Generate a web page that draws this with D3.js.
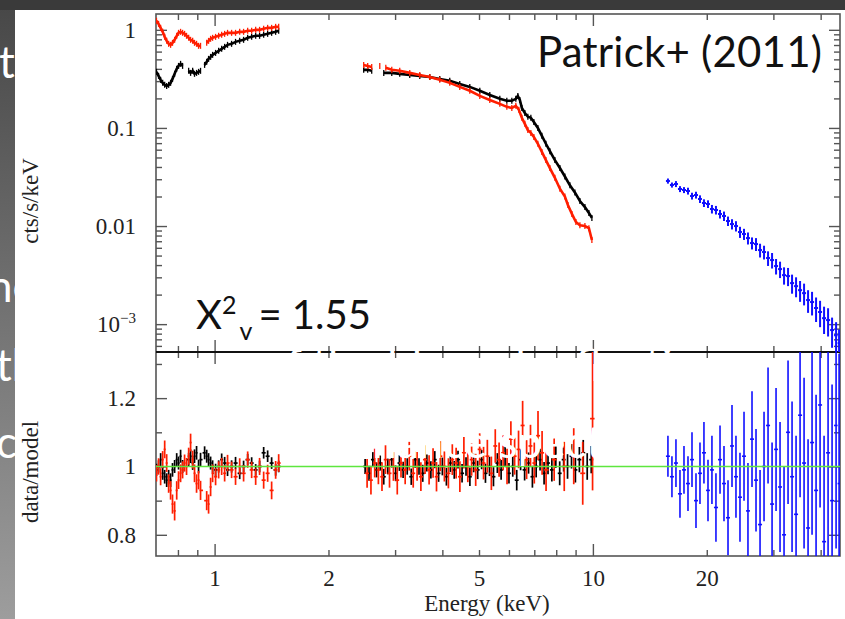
<!DOCTYPE html>
<html><head><meta charset="utf-8">
<script src="https://cdn.jsdelivr.net/npm/d3@7/dist/d3.min.js"></script>
<style>html,body{margin:0;padding:0;background:#fff;overflow:hidden}svg{display:block}</style>
</head><body>
<svg id="chart" width="845" height="619"></svg>
<script>
// ---------------- data ----------------
const xDomain=[0.7,45];
const yTopDomain=[5.2e-4,1.45];
const yBotDomain=[0.738,1.335];
const xTickLabels=[1,2,5,10,20];
const xMajorTicks=[1,10];
const yTopMajorTicks=[0.001,0.01,0.1,1];
const yBotMajorTicks=[0.8,1,1.2];
const yBotMinorTicks=[0.9,1.1,1.3];

// black (low energy) counts
const blkLoE=[0.702,0.711,0.720,0.729,0.738,0.747,0.756,0.765,0.774,0.784,0.794,0.803,0.813,0.823,0.838,0.854,0.864,0.875,0.885,0.896,0.907,0.918,0.930,0.941,0.953,0.964,0.976,0.988,1.006,1.025,1.044,1.063,1.082,1.109,1.136,1.165,1.193,1.223,1.253,1.284,1.315,1.348,1.381,1.415,1.450,1.477];
const blkLoF=[0.373,0.339,0.309,0.288,0.275,0.268,0.275,0.288,0.316,0.356,0.400,0.429,0.450,0.429,null,0.382,0.364,0.382,0.356,0.364,0.373,0.382,null,0.439,0.472,0.506,0.530,0.556,0.582,0.611,0.640,0.671,0.703,0.720,0.754,0.772,0.791,0.829,0.848,0.869,0.869,0.889,0.910,0.932,0.954,0.977];
const blkLoRes=[0.99,1.00,1.02,0.98,0.97,0.96,0.97,0.96,0.99,1.00,1.02,1.01,1.03,1.00,null,1.02,1.03,1.01,1.03,1.04,1.00,1.02,null,1.04,1.03,1.02,1.01,1.00,0.99,1.00,1.02,1.01,0.99,1.00,1.01,0.98,1.00,1.02,1.01,0.99,1.00,1.04,1.03,1.01,0.99,1.00];
const blkLoErr=[0.018,0.018,0.019,0.019,0.020,0.020,0.020,0.020,0.020,0.019,0.019,0.019,0.019,0.019,0,0.020,0.020,0.020,0.020,0.020,0.020,0.020,0,0.019,0.019,0.019,0.019,0.018,0.018,0.018,0.018,0.018,0.018,0.018,0.018,0.017,0.017,0.017,0.017,0.017,0.017,0.017,0.017,0.017,0.017,0.017];

// red (low energy) counts
const redLoE=[0.702,0.711,0.720,0.729,0.738,0.747,0.756,0.765,0.774,0.784,0.794,0.803,0.813,0.823,0.833,0.843,0.854,0.864,0.875,0.885,0.896,0.907,0.918,0.935,0.953,0.964,0.976,0.988,1.006,1.025,1.044,1.063,1.082,1.109,1.136,1.165,1.193,1.223,1.253,1.284,1.315,1.348,1.381,1.415,1.450,1.477];
const redLoF=[1.235,1.151,1.048,0.954,0.848,0.772,0.720,0.703,0.737,0.791,0.869,0.932,0.954,0.932,0.910,0.869,0.829,0.791,0.772,0.737,0.720,0.687,0.687,null,0.737,0.772,0.810,0.829,0.848,0.869,0.889,0.910,0.932,0.932,0.932,0.954,0.954,0.977,0.977,1.000,1.000,1.024,1.048,1.048,1.073,1.073];
const redLoRes=[0.98,1.00,0.97,1.02,1.05,1.01,0.95,0.93,0.89,0.87,0.93,0.96,0.98,0.99,1.01,1.00,1.03,1.07,1.02,0.98,0.95,0.96,0.93,null,0.90,0.89,0.94,0.98,0.97,0.99,1.00,0.98,1.01,0.99,0.97,1.00,0.98,1.02,0.99,0.97,1.00,0.96,0.98,0.93,0.99,1.01];
const redLoErr=[0.024,0.024,0.025,0.025,0.026,0.026,0.027,0.027,0.028,0.028,0.027,0.026,0.026,0.025,0.025,0.025,0.025,0.026,0.026,0.026,0.027,0.027,0.028,0,0.028,0.028,0.027,0.026,0.025,0.025,0.025,0.024,0.024,0.024,0.024,0.024,0.024,0.024,0.024,0.024,0.025,0.025,0.025,0.026,0.026,0.026];

// black (2.5-10 keV) counts
const blkHiE=[2.478,2.539,2.602,2.700,2.800,2.940,3.086,3.280,3.486,3.705,3.937,4.184,4.447,4.727,5.024,5.339,5.675,5.922,6.105,6.256,6.333,6.411,6.489,6.609,6.731,6.855,6.982,7.154,7.331,7.512,7.697,7.935,8.180,8.433,8.694,8.963,9.240,9.526,9.760,9.939];
const blkHiF=[0.391,0.391,0.382,null,0.364,0.364,0.356,0.347,0.339,0.331,0.316,0.302,0.281,0.262,0.239,0.217,0.198,0.189,0.189,0.198,0.212,0.193,0.160,0.142,0.130,0.127,0.115,0.100,0.083,0.069,0.058,0.047,0.039,0.032,0.026,0.022,0.018,0.0156,0.0136,0.0121];
// red (2.5-10 keV) counts
const redHiE=[2.478,2.539,2.602,2.670,2.733,2.780,2.835,2.940,3.086,3.280,3.486,3.705,3.937,4.184,4.447,4.727,5.024,5.339,5.675,5.922,6.105,6.256,6.372,6.489,6.609,6.731,6.855,6.982,7.154,7.331,7.512,7.697,7.935,8.180,8.433,8.589,8.801,9.018,9.240,9.526,9.760,9.939];
const redHiF=[0.439,0.429,0.419,null,0.429,null,0.410,0.391,0.382,0.364,0.347,0.331,0.309,0.288,0.262,0.239,0.212,0.193,0.176,0.164,0.160,0.168,0.153,0.127,0.110,0.095,0.089,0.081,0.069,0.057,0.047,0.039,0.031,0.024,0.020,0.0164,0.0133,0.0110,0.0102,0.0100,0.0095,0.0072];

// ratios 2.5-10 keV
const blkResE=[2.50,2.56,2.62,2.68,2.74,2.80,2.87,2.94,3.01,3.08,3.15,3.23,3.31,3.39,3.47,3.55,3.64,3.73,3.82,3.91,4.00,4.10,4.20,4.30,4.40,4.51,4.62,4.73,4.84,4.96,5.08,5.20,5.33,5.46,5.59,5.72,5.86,6.00,6.14,6.29,6.44,6.60,6.76,6.92,7.08,7.25,7.43,7.61,7.79,7.98,8.17,8.37,8.57,8.78,8.99,9.21,9.43,9.66,9.90];
const blkRes=[1.00,0.98,1.02,0.99,1.01,0.97,1.00,1.02,0.98,1.01,0.99,1.00,0.97,1.02,1.00,0.98,1.01,0.99,1.02,0.98,1.00,0.97,1.01,0.99,1.02,0.98,1.00,0.97,1.01,0.99,1.02,0.98,1.00,0.97,1.01,0.99,1.03,0.98,1.00,0.96,1.02,0.99,1.01,0.97,1.00,1.02,0.98,1.01,0.99,1.03,0.98,1.02,1.00,1.03,0.99,1.02,1.04,1.00,1.02];
const blkResErr=[0.022,0.022,0.022,0.022,0.022,0.023,0.023,0.023,0.023,0.023,0.024,0.024,0.024,0.024,0.024,0.025,0.025,0.025,0.025,0.025,0.026,0.026,0.026,0.026,0.026,0.027,0.027,0.027,0.027,0.027,0.028,0.028,0.028,0.028,0.029,0.029,0.029,0.030,0.030,0.030,0.031,0.031,0.031,0.032,0.032,0.032,0.033,0.033,0.034,0.034,0.035,0.035,0.036,0.036,0.037,0.037,0.038,0.039,0.040];
const redResE=[2.53,2.59,2.65,2.71,2.77,2.83,2.90,2.97,3.04,3.11,3.19,3.27,3.35,3.43,3.51,3.60,3.69,3.78,3.86,3.95,4.05,4.15,4.25,4.35,4.45,4.56,4.67,4.78,4.90,5.02,5.14,5.26,5.39,5.52,5.65,5.79,5.93,6.07,6.21,6.36,6.52,6.68,6.84,7.00,7.16,7.34,7.52,7.90,8.40,8.90,9.40,9.98];
const redRes=[0.98,0.96,1.01,0.99,0.97,1.02,0.98,1.00,0.96,1.01,0.99,1.03,0.98,1.00,0.97,1.02,0.99,1.01,0.97,1.03,1.00,0.98,1.02,1.01,0.97,1.04,1.00,1.02,0.99,1.05,1.01,1.03,0.98,1.06,1.02,1.04,1.00,1.08,1.03,1.05,1.12,1.02,1.06,1.01,1.09,1.04,0.99,1.02,1.00,1.03,0.98,1.14];
const redResErr=[0.042,0.042,0.042,0.042,0.042,0.042,0.042,0.042,0.042,0.042,0.042,0.042,0.042,0.042,0.042,0.042,0.043,0.043,0.043,0.044,0.044,0.044,0.045,0.045,0.045,0.046,0.046,0.047,0.047,0.047,0.048,0.048,0.049,0.049,0.050,0.051,0.052,0.052,0.054,0.055,0.072,0.057,0.062,0.060,0.072,0.064,0.062,0.062,0.072,0.082,0.092,0.210];

// blue (hard X-ray) counts, ratios, fractional errors
const blueE=[15.79,16.18,16.58,16.99,17.41,17.84,18.28,18.73,19.19,19.66,20.15,20.64,21.15,21.68,22.21,22.76,23.32,23.89,24.48,25.09,25.70,26.34,26.99,27.66,28.34,29.04,29.76,30.49,31.24,32.01,32.80,33.61,34.44,35.29,36.16,37.05,37.96,38.90,39.86,40.84,41.85,42.88,43.94,44.75];
const blueF=[0.02878,0.02621,0.02683,0.02385,0.02330,0.02276,0.02024,0.02071,0.01886,0.01717,0.01677,0.01491,0.01457,0.01326,0.01265,0.01125,0.01048,0.01000,0.00869,0.00829,0.00754,0.00671,0.00655,0.00569,0.00543,0.00472,0.00450,0.00391,0.00364,0.00316,0.00309,0.00262,0.00244,0.00222,0.00207,0.00176,0.00168,0.00146,0.00133,0.00115,0.00110,0.00087,0.00077,0.00064];
const blueRes=[1.03,0.97,1.01,0.92,0.99,0.95,1.02,0.90,0.98,1.04,0.93,0.99,0.88,1.02,0.95,0.85,1.06,0.97,0.91,1.03,0.87,1.08,0.96,0.83,1.00,1.12,0.89,1.05,0.94,0.80,1.10,0.97,0.86,1.15,1.01,0.82,1.07,0.93,1.18,0.78,1.04,0.90,1.12,0.95];
const blueErr=[0.06,0.06,0.07,0.07,0.07,0.08,0.08,0.08,0.09,0.09,0.09,0.10,0.10,0.10,0.11,0.11,0.12,0.12,0.13,0.13,0.14,0.14,0.15,0.16,0.16,0.17,0.18,0.18,0.19,0.20,0.21,0.22,0.23,0.24,0.25,0.26,0.27,0.28,0.30,0.31,0.32,0.34,0.36,0.38];

// ---------------- drawing ----------------
const W=845,H=619,L=156,R=840,T=14,M=352,B=556;
const svg=d3.select("#chart");
const defs=svg.append("defs");
const lg=defs.append("linearGradient").attr("id","bgL").attr("x1",0).attr("y1",0).attr("x2",0).attr("y2",1);
lg.append("stop").attr("offset","0%").attr("stop-color","#474747");
lg.append("stop").attr("offset","100%").attr("stop-color","#9d9d9d");
defs.append("clipPath").attr("id","cpT").append("rect").attr("x",L).attr("y",T).attr("width",R-L).attr("height",M-T);
defs.append("clipPath").attr("id","cpB").append("rect").attr("x",L).attr("y",M).attr("width",R-L).attr("height",B-M);

svg.append("rect").attr("width",W).attr("height",H).attr("fill","url(#bgL)");
svg.append("rect").attr("width",W).attr("height",10).attr("fill","#3a3a3a");
svg.append("rect").attr("x",15).attr("y",10).attr("width",W-15).attr("height",H-10).attr("fill","#fff");

const x=d3.scaleLog().domain(xDomain).range([L,R]);
const yT=d3.scaleLog().domain(yTopDomain).range([M,T]);
const yB=d3.scaleLinear().domain(yBotDomain).range([B,M]);

const serif="'Liberation Serif','Times New Roman',serif";
const tickCol="#555";

function styleAxis(g){
  g.select(".domain").remove();
  g.selectAll(".tick line").attr("stroke",tickCol).attr("stroke-width",1.4);
  g.selectAll(".tick text").attr("font-family",serif).attr("font-size",23).attr("fill","#222");
}
function addAxis(gen,tx,ty){
  svg.append("g").attr("transform",`translate(${tx},${ty})`).call(gen).call(styleAxis);
}
const xMinor=x.ticks().filter(v=>v>xDomain[0]*1.01&&!xMajorTicks.includes(v));
const yTMinor=yT.ticks().filter(v=>!yTopMajorTicks.some(m=>Math.abs(m-v)/m<1e-6));
const none=()=>"";

// x axes: top edge, middle (both panels), bottom edge
[[d3.axisTop,T],[d3.axisBottom,M],[d3.axisTop,M],[d3.axisBottom,B]].forEach(([f,ty])=>{
  addAxis(f(x).tickValues(xMajorTicks).tickSize(-12).tickSizeOuter(0).tickFormat(none),0,ty);
  addAxis(f(x).tickValues(xMinor).tickSize(-6).tickSizeOuter(0).tickFormat(none),0,ty);
});
addAxis(d3.axisBottom(x).tickValues(xTickLabels).tickSize(0).tickPadding(14).tickFormat(d3.format("d")),0,B);

// top panel y axes
addAxis(d3.axisLeft(yT).tickValues(yTopMajorTicks).tickSize(-11).tickSizeOuter(0).tickPadding(20)
  .tickFormat(v=>v>=0.01?String(v):""),L,0);
addAxis(d3.axisLeft(yT).tickValues(yTMinor).tickSize(-6).tickSizeOuter(0).tickFormat(none),L,0);
addAxis(d3.axisRight(yT).tickValues(yTopMajorTicks).tickSize(-11).tickSizeOuter(0).tickFormat(none),R,0);
addAxis(d3.axisRight(yT).tickValues(yTMinor).tickSize(-6).tickSizeOuter(0).tickFormat(none),R,0);
// 10^-3 label
const e3=svg.append("text").attr("x",L-20).attr("y",yT(0.001)+8).attr("text-anchor","end")
  .attr("font-family",serif).attr("font-size",23).attr("fill","#222");
e3.append("tspan").text("10");
e3.append("tspan").attr("font-size",15).attr("dy",-9).text("−3");

// bottom panel y axes
addAxis(d3.axisLeft(yB).tickValues(yBotMajorTicks).tickSize(-11).tickSizeOuter(0).tickPadding(20).tickFormat(d3.format("")),L,0);
addAxis(d3.axisLeft(yB).tickValues(yBotMinorTicks).tickSize(-6).tickSizeOuter(0).tickFormat(none),L,0);
addAxis(d3.axisRight(yB).tickValues(yBotMajorTicks).tickSize(-11).tickSizeOuter(0).tickFormat(none),R,0);
addAxis(d3.axisRight(yB).tickValues(yBotMinorTicks).tickSize(-6).tickSizeOuter(0).tickFormat(none),R,0);

// frame
svg.append("rect").attr("x",L).attr("y",T).attr("width",R-L).attr("height",B-T)
  .attr("fill","none").attr("stroke","#555").attr("stroke-width",1.6);
svg.append("line").attr("x1",L).attr("x2",R).attr("y1",M).attr("y2",M).attr("stroke","#111").attr("stroke-width",1.8);

// axis titles
svg.append("text").attr("x",487).attr("y",611).attr("text-anchor","middle").attr("font-family",serif)
  .attr("font-size",23).attr("fill","#222").text("Energy (keV)");
svg.append("text").attr("transform","translate(38,201) rotate(-90)").attr("text-anchor","middle").attr("font-family",serif)
  .attr("font-size",23).attr("fill","#222").text("cts/s/keV");
svg.append("text").attr("transform","translate(38,472) rotate(-90)").attr("text-anchor","middle").attr("font-family",serif)
  .attr("font-size",23).attr("fill","#222").text("data/model");

// --- marks
const gT=svg.append("g").attr("clip-path","url(#cpT)");
const gB=svg.append("g").attr("clip-path","url(#cpB)");

function trace(g,E,F,color){
  const line=d3.line().defined((d,i)=>F[i]!=null).x((d,i)=>x(E[i])).y((d,i)=>yT(F[i]));
  g.append("path").datum(E).attr("d",line).attr("fill","none").attr("stroke",color).attr("stroke-width",2.6);
  const pts=E.map((e,i)=>[e,F[i]]).filter(d=>d[1]!=null);
  g.append("g").selectAll("line").data(pts).join("line")
    .attr("x1",d=>x(d[0])).attr("x2",d=>x(d[0])).attr("y1",d=>yT(d[1])-3).attr("y2",d=>yT(d[1])+3)
    .attr("stroke",color).attr("stroke-width",1.3);
}
function crosses(g,E,V,Err,color,yS,rel,sw){
  const pts=[];
  E.forEach((e,i)=>{if(V[i]!=null)pts.push({e,v:V[i],err:Err[i]});});
  const gg=g.append("g").attr("stroke",color).attr("stroke-width",sw);
  pts.forEach((d,k)=>{
    const px=x(d.e);
    const hl=k>0?Math.min((px-x(pts[k-1].e))/2,2.5):2;
    const hr=k<pts.length-1?Math.min((x(pts[k+1].e)-px)/2,2.5):2;
    const lo=rel?d.v*(1-d.err):d.v-d.err, hi=rel?d.v*(1+d.err):d.v+d.err;
    gg.append("line").attr("x1",px-hl).attr("x2",px+hr).attr("y1",yS(d.v)).attr("y2",yS(d.v));
    gg.append("line").attr("x1",px).attr("x2",px).attr("y1",yS(Math.max(lo,1e-6))).attr("y2",yS(hi));
  });
}
const BLACK="#000",RED="#ff1e00",BLUE="#1010ff";
trace(gT,blkLoE,blkLoF,BLACK);
trace(gT,blkHiE,blkHiF,BLACK);
trace(gT,redLoE,redLoF,RED);
trace(gT,redHiE,redHiF,RED);
crosses(gT,blueE,blueF,blueErr,BLUE,yT,true,2);

crosses(gB,blkLoE,blkLoRes,blkLoErr,BLACK,yB,false,1.7);
crosses(gB,blkResE,blkRes,blkResErr,BLACK,yB,false,1.7);
crosses(gB,redLoE,redLoRes,redLoErr,RED,yB,false,1.7);
crosses(gB,redResE,redRes,redResErr,RED,yB,false,1.7);
crosses(gB,blueE,blueRes,blueErr,BLUE,yB,false,1.6);
gB.append("line").attr("x1",L).attr("x2",R).attr("y1",yB(1)).attr("y2",yB(1))
  .attr("stroke","#5ee63e").attr("stroke-width",1.6);

// annotations
const sans="Lato,'Open Sans',sans-serif";
svg.append("text").attr("x",537).attr("y",67).attr("font-family",sans).attr("font-size",42)
  .attr("fill","#111").attr("textLength",285).text("Patrick+ (2011)");
const chi=svg.append("text").attr("x",196).attr("y",329).attr("font-family",sans).attr("font-size",40).attr("fill","#111");
chi.append("tspan").text("X");
chi.append("tspan").attr("font-size",25).attr("dy",-15).text("2");
chi.append("tspan").attr("font-size",25).attr("dx",3).attr("dy",26).text("v");
chi.append("tspan").attr("dx",6).attr("dy",-11).text("= 1.55");

// slide text (white) on top
const wt=(t,xx,yy)=>svg.append("text").attr("x",xx).attr("y",yy).attr("font-family",sans)
  .attr("font-size",44).attr("fill","#fff").text(t);
wt("t",-1,78);
wt("nc",-12,302);
wt("th",-4,381);
wt("c",-4,458);
wt("of the blurred reflection",262,381);
wt("resonance spectra",290,458);
</script>
</body></html>
